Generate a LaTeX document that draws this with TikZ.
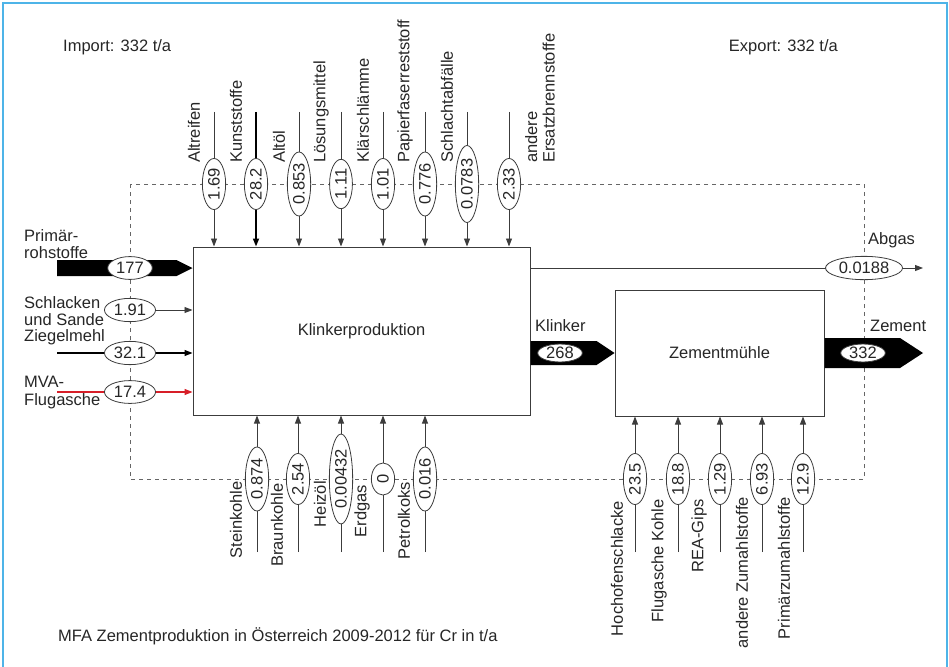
\documentclass[tikz,border=0pt]{standalone}
\usepackage{fontspec}
\setmainfont{Liberation Sans}
\usepackage{tikz}
\usetikzlibrary{arrows.meta, shapes.geometric, calc}

\definecolor{frameblue}{RGB}{78,180,232}
\definecolor{linegray}{RGB}{60,60,60}
\definecolor{mvared}{RGB}{215,30,40}
\newcommand{\dfont}{\fontsize{16.5}{17.5}\selectfont}
% fat flow: from, to, half width, head length
\newcommand{\fatflow}[4]{%
  \fill[black] ($(#1)+(0,#3)$) -- ($(#2)+(-#4,#3)$) -- (#2) -- ($(#2)+(-#4,-#3)$) -- ($(#1)+(0,-#3)$) -- cycle;}

\tikzset{
  proc/.style={draw=linegray, line width=1pt},
  flow/.style={draw=linegray, line width=0.9pt, -{Triangle[length=8pt,width=6pt]}},
  flowbold/.style={flow, draw=black, line width=1.6pt},
  val/.style={ellipse, draw=linegray, fill=white, line width=0.8pt, inner xsep=2pt, inner ysep=2.4pt, minimum width=32pt},
  vval/.style={val, rotate=90},
  valfat/.style={val, inner ysep=0.5pt, minimum width=44pt},
  lab/.style={inner sep=0pt, align=left},
  vlab/.style={lab, rotate=90},
  sysbound/.style={draw=black!60, line width=0.8pt, dash pattern=on 4pt off 4pt}
}

\begin{document}
\begin{tikzpicture}[x=1pt,y=1pt,yscale=-1,font=\dfont,text=black!85]
\useasboundingbox (0,0) rectangle (949,666);
%frame
\draw[frameblue, line width=2.5pt] (3,667) -- (3,3) -- (947,3) -- (947,667);

%system boundary
\draw[sysbound] (130,184) rectangle (864,479);

%processes
\node[proc, minimum width=337pt, minimum height=168pt] (klin) at (361.5,331) {Klinkerproduktion};
\node[proc, minimum width=209pt, minimum height=126pt] (zm) at (719.5,353) {Zementmühle};

% Text Node
\node[lab, anchor=west] (import) at (63,47) {Import: 332 t/a};
\node[lab, anchor=east] (export) at (838,47) {Export: 332 t/a};
\node[lab, anchor=west] (title) at (58,636) {MFA Zementproduktion in Österreich 2009-2012 für Cr in t/a};

%fuels from above
\coordinate (altreifenS) at (214,112);
\coordinate (kunstS) at (256,112);
\coordinate (altoelS) at (299,112);
\coordinate (loesS) at (341,112);
\coordinate (klaerS) at (383,112);
\coordinate (papierS) at (425,112);
\coordinate (schlachtS) at (467,112);
\coordinate (ersatzS) at (509,112);
\draw[flow] (altreifenS) -- (altreifenS |- klin.north);
\draw[flowbold] (kunstS) -- (kunstS |- klin.north);
\draw[flow] (altoelS) -- (altoelS |- klin.north);
\draw[flow] (loesS) -- (loesS |- klin.north);
\draw[flow] (klaerS) -- (klaerS |- klin.north);
\draw[flow] (papierS) -- (papierS |- klin.north);
\draw[flow] (schlachtS) -- (schlachtS |- klin.north);
\draw[flow] (ersatzS) -- (ersatzS |- klin.north);
\node[vval] (altreifenV) at (214,184) {1.69};
\node[vval] (kunstV) at (256,184) {28.2};
\node[vval] (altoelV) at (299,184) {0.853};
\node[vval] (loesV) at (341,184) {1.11};
\node[vval] (klaerV) at (383,184) {1.01};
\node[vval] (papierV) at (425,184) {0.776};
\node[vval] (schlachtV) at (467,184) {0.0783};
\node[vval] (ersatzV) at (509,184) {2.33};
\node[vlab, anchor=west] (altreifenL) at (194,163) {Altreifen};
\node[vlab, anchor=west] (kunstL) at (236,163) {Kunststoffe};
\node[vlab, anchor=west] (altoelL) at (279,163) {Altöl};
\node[vlab, anchor=west] (loesL) at (321,163) {Lösungsmittel};
\node[vlab, anchor=west] (klaerL) at (363,163) {Klärschlämme};
\node[vlab, anchor=west] (papierL) at (405,163) {Papierfaserreststoff};
\node[vlab, anchor=west] (schlachtL) at (447,163) {Schlachtabfälle};
\node[vlab, anchor=west] (ersatzL) at (540,163) {andere\\Ersatzbrennstoffe};

%raw materials from the left
\coordinate (primS) at (57,268);
\coordinate (primE) at (primS -| klin.west);
\fatflow{primS}{primE}{8}{16}
\node[val] (primV) at (130,268) {177};
\node[lab, anchor=west] (primL) at (24,244) {Primär-\\rohstoffe};

\node[lab, anchor=west] (schlL) at (24,311) {Schlacken\\und Sande};
\draw[flow] (schlL.east |- 0,310) -- (klin.west |- 0,310);
\node[val] (schlV) at (130,310) {1.91};

\coordinate (ziegS) at (57,353);
\draw[flowbold, line width=1.3pt] (ziegS) -- (ziegS -| klin.west);
\node[val] (ziegV) at (130,353) {32.1};
\node[lab, anchor=west] (ziegL) at (24,337) {Ziegelmehl};

\coordinate (mvaS) at (57,392);
\draw[flow, draw=mvared, line width=1.1pt] (mvaS) -- (mvaS -| klin.west);
\node[val] (mvaV) at (130,392) {17.4};
\node[lab, anchor=west] (mvaL) at (24,392.5) {MVA-\\Flugasche};

%fuels from below
\coordinate (steinS) at (257,552);
\coordinate (braunS) at (298,552);
\coordinate (heizS) at (341,552);
\coordinate (erdgasS) at (383,552);
\coordinate (petrolS) at (425,552);
\draw[flow] (steinS) -- (steinS |- klin.south);
\draw[flow] (braunS) -- (braunS |- klin.south);
\draw[flow] (heizS) -- (heizS |- klin.south);
\draw[flow] (erdgasS) -- (erdgasS |- klin.south);
\draw[flow] (petrolS) -- (petrolS |- klin.south);
\node[vval] (steinV) at (257,479) {0.874};
\node[vval] (braunV) at (298,479) {2.54};
\node[vval] (heizV) at (341,479) {0.00432};
\node[vval] (erdgasV) at (383,479) {0};
\node[vval] (petrolV) at (425,479) {0.016};
\node[vlab, anchor=east] (steinL) at (236,481) {Steinkohle};
\node[vlab, anchor=east] (braunL) at (277,483) {Braunkohle};
\node[vlab, anchor=east] (heizL) at (320,481) {Heizöl};
\node[vlab, anchor=east] (erdgasL) at (362,485) {Erdgas};
\node[vlab, anchor=east] (petrolL) at (404,482) {Petrolkoks};

%additives for the mill
\coordinate (hochS) at (635,552);
\coordinate (flugS) at (678,552);
\coordinate (reaS) at (720,552);
\coordinate (zumS) at (762,552);
\coordinate (primzS) at (803,552);
\draw[flow] (hochS) -- (hochS |- zm.south);
\draw[flow] (flugS) -- (flugS |- zm.south);
\draw[flow] (reaS) -- (reaS |- zm.south);
\draw[flow] (zumS) -- (zumS |- zm.south);
\draw[flow] (primzS) -- (primzS |- zm.south);
\node[vval] (hochV) at (635,479) {23.5};
\node[vval] (flugV) at (678,479) {18.8};
\node[vval] (reaV) at (720,479) {1.29};
\node[vval] (zumV) at (762,479) {6.93};
\node[vval] (primzV) at (803,479) {12.9};
\node[vlab, anchor=east] (hochL) at (617,501) {Hochofenschlacke};
\node[vlab, anchor=east] (flugL) at (659,499) {Flugasche Kohle};
\node[vlab, anchor=east] (reaL) at (699,499) {REA-Gips};
\node[vlab, anchor=east] (zumL) at (742,497) {andere Zumahlstoffe};
\node[vlab, anchor=east] (primzL) at (784,497) {Primärzumahlstoffe};

%outputs
\coordinate (abgasE) at (923,268);
\draw[flow] (klin.east |- abgasE) -- (abgasE);
\node[val] (abgasV) at (864,268) {0.0188};
\node[lab, anchor=west] (abgasL) at (868,240) {Abgas};

\coordinate (klinkerS) at (klin.east |- zm.west);
\fatflow{klinkerS}{zm.west}{12}{18}
\node[valfat] (klinkerV) at (560,353) {268};
\node[lab, anchor=west] (klinkerL) at (535,326) {Klinker};

\coordinate (zementE) at (923,353);
\fatflow{zm.east}{zementE}{15}{23}
\node[valfat] (zementV) at (863,353) {332};
\node[lab, anchor=west] (zementL) at (870,326) {Zement};
\end{tikzpicture}
\end{document}
